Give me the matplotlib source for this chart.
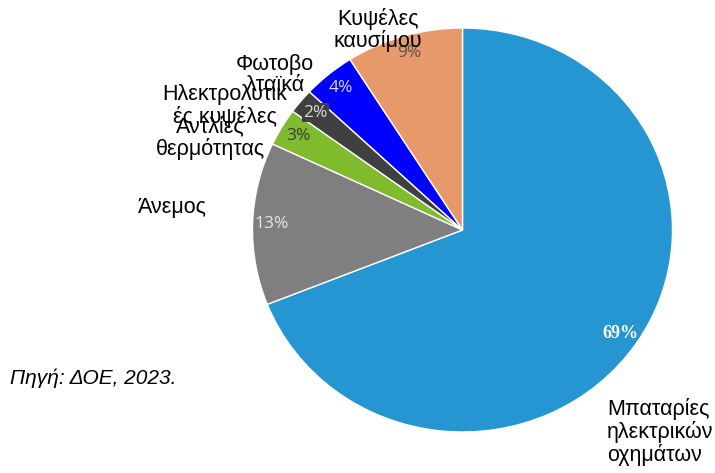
import matplotlib.pyplot as plt

# Slices, clockwise from 12 o'clock
labels = ["Μπαταρίες\nηλεκτρικών\nοχημάτων", "Άνεμος", "Αντλίες\nθερμότητας",
          "Ηλεκτρολυτικ\nές κυψέλες", "Φωτοβο\nλταϊκά", "Κυψέλες\nκαυσίμου"]
values = [69, 13, 3, 2, 4, 9]
colors = ["#2596d1", "#7f7f7f", "#80bb2e", "#404040", "#0000ff", "#e8996b"]
pct_colors = ["#ffffff", "#e6e6e6", "#3a3a3a", "#d9d9d9", "#d9d9d9", "#555555"]

# label anchor positions in pixels (x, y from top), alignment
label_pos = [(607, 432, "left"), (172, 208, "center"), (210, 138, "center"),
             (225, 106, "center"), (275, 75, "center"), (378, 30, "center")]

W, H = 715, 473
fig = plt.figure(figsize=(W / 100, H / 100), dpi=100)
cx, cy, rx, ry = 462.5, 230, 210, 202
ax = fig.add_axes([(cx - rx) / W, (H - cy - ry) / H, 2 * rx / W, 2 * ry / H])

wedges, texts, autotexts = ax.pie(
    values, colors=colors, startangle=90, counterclock=False,
    autopct="%d%%", pctdistance=0.91, radius=1,
    wedgeprops=dict(edgecolor="white", linewidth=1),
    textprops=dict(fontsize=12.5, family="Open Sans"))
ax.set_xlim(-1, 1)
ax.set_ylim(-1, 1)
ax.set_aspect("auto")

for i, t in enumerate(autotexts):
    t.set_color(pct_colors[i])
autotexts[0].set_family("Liberation Serif")
autotexts[0].set_fontweight("bold")
autotexts[0].set_fontsize(13)
autotexts[3].set_bbox(dict(facecolor="#404040", edgecolor="none", pad=1))

for lab, (x, y, ha) in zip(labels, label_pos):
    fig.text(x / W, 1 - y / H, lab, ha=ha, va="center", fontsize=15.5,
             family="Liberation Sans", linespacing=1.05)

fig.text(10 / W, 1 - 378 / H, "Πηγή: ΔΟΕ, 2023.", ha="left", va="center",
         fontsize=15, style="italic", family="Liberation Sans")

fig.savefig("out.png", dpi=100)
